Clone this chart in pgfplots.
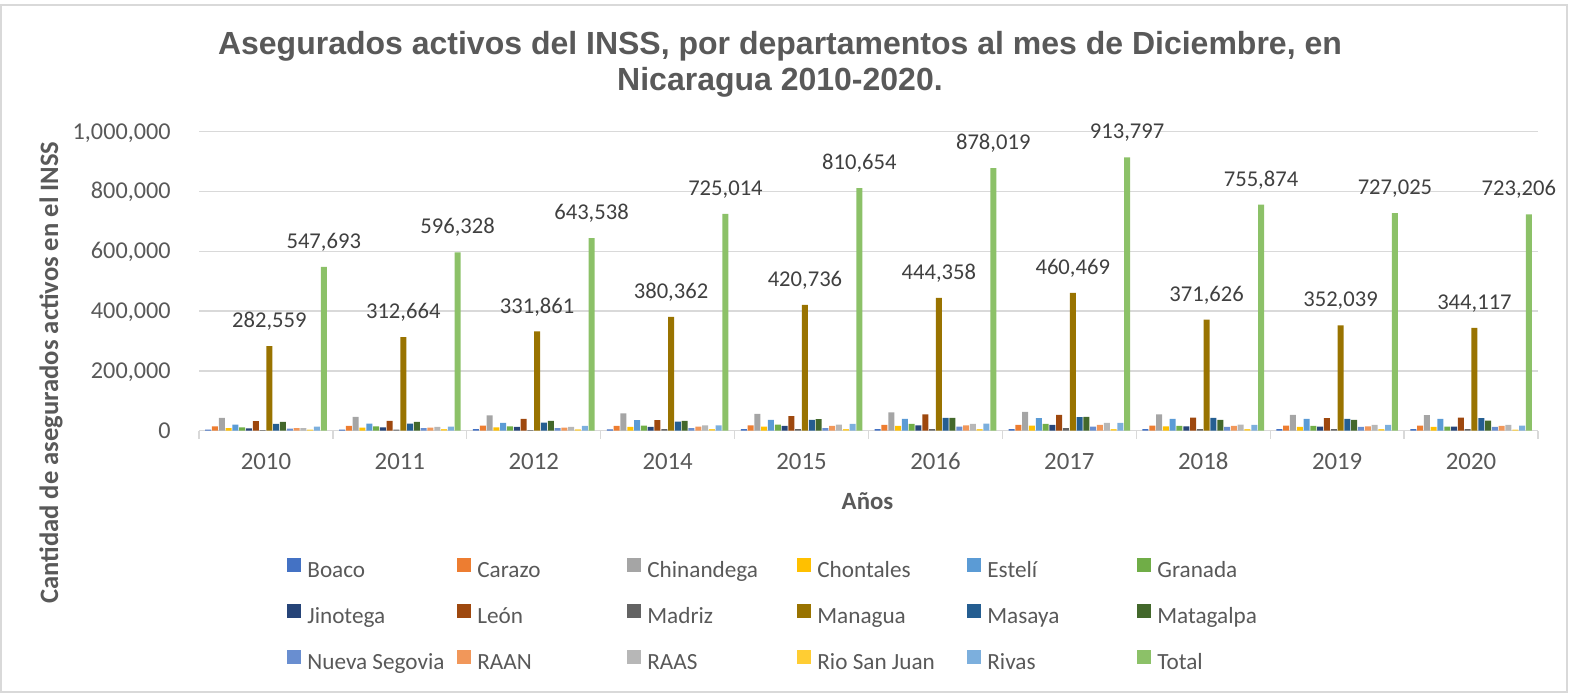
\documentclass[border=0pt]{standalone}
\usepackage{fontspec}
\setmainfont{Carlito}
\newfontfamily\titlefont{Liberation Sans}
\usepackage{pgfplots}
\pgfplotsset{compat=1.18}

\definecolor{tickgray}{HTML}{595959}
\definecolor{labgray}{HTML}{404040}
\definecolor{gridgray}{HTML}{D9D9D9}
\definecolor{cBoaco}{HTML}{4472C4}
\definecolor{cCarazo}{HTML}{ED7D31}
\definecolor{cChinandega}{HTML}{A5A5A5}
\definecolor{cChontales}{HTML}{FFC000}
\definecolor{cEsteli}{HTML}{5B9BD5}
\definecolor{cGranada}{HTML}{70AD47}
\definecolor{cJinotega}{HTML}{264478}
\definecolor{cLeon}{HTML}{9E480E}
\definecolor{cMadriz}{HTML}{636363}
\definecolor{cManagua}{HTML}{997300}
\definecolor{cMasaya}{HTML}{255E91}
\definecolor{cMatagalpa}{HTML}{43682B}
\definecolor{cNSegovia}{HTML}{698ED0}
\definecolor{cRAAN}{HTML}{F1975A}
\definecolor{cRAAS}{HTML}{B7B7B7}
\definecolor{cRSJ}{HTML}{FFCD33}
\definecolor{cRivas}{HTML}{7CAFDD}
\definecolor{cTotal}{HTML}{8CC168}

% fixed-width legend cells, like Excel's evenly spaced legend columns
\newcommand{\legent}[1]{\addlegendentry{\makebox[75pt][l]{#1}}}

\begin{document}
\begin{tikzpicture}
% 1 px of the reference = 0.5pt
\useasboundingbox (0,0) rectangle (790pt,346.5pt);
\draw[gridgray, line width=0.75pt] (0.5pt,0.4pt) rectangle (783.5pt,344pt);

\node[anchor=base, text=tickgray, font=\titlefont\bfseries\fontsize{16}{18}\selectfont]
  at (390pt,319.3pt) {Asegurados activos del INSS, por departamentos al mes de Diciembre, en};
\node[anchor=base, text=tickgray, font=\titlefont\bfseries\fontsize{16}{18}\selectfont]
  at (390pt,301.5pt) {Nicaragua 2010-2020.};
\node[rotate=90, text=tickgray, font=\bfseries\fontsize{13.3}{15}\selectfont]
  at (25.5pt,160.2pt) {Cantidad de asegurados activos en el INSS};
\node[anchor=base, text=tickgray, font=\bfseries\fontsize{12.4}{14}\selectfont]
  at (433.75pt,91.8pt) {Años};

\begin{axis}[
  at={(99.5pt,131.15pt)}, anchor=south west,
  scale only axis, width=669.5pt, height=149.6pt,
  ybar=0.4pt, bar width=3pt,
  xmin=-0.5, xmax=9.5, ymin=0, ymax=1000000,
  xtick={0,1,2,3,4,5,6,7,8,9},
  xticklabels={2010,2011,2012,2014,2015,2016,2017,2018,2019,2020},
  ytick={0,200000,400000,600000,800000,1000000},
  scaled y ticks=false,
  /pgf/number format/assume math mode=true,
  /pgf/number format/fixed,
  /pgf/number format/precision=0,
  /pgf/number format/1000 sep={,},
  axis line style={draw=none},
  tick pos=left, major tick length=0pt,
  ymajorgrids, grid style={gridgray, line width=0.65pt},
  extra x ticks={-0.5,0.5,1.5,2.5,3.5,4.5,5.5,6.5,7.5,8.5,9.5},
  extra x tick labels={},
  extra x tick style={major tick length=4pt, tick align=outside,
    tick style={draw=gridgray, line width=0.65pt}},
  yticklabel style={text=tickgray, font=\fontsize{12.1}{14}\selectfont,
    anchor=base east, inner sep=0pt, xshift=-14pt, yshift=-3.8pt},
  xticklabel style={text=tickgray, font=\fontsize{12.4}{14}\selectfont,
    anchor=base, inner sep=0pt, yshift=-19.2pt},
  every axis plot/.append style={draw=none},
  legend columns=6,
  legend cell align=left,
  legend image code/.code={\path[#1, draw=none] (0pt,-0.5pt) rectangle (7pt,6.5pt);},
  legend style={at={(0.0657,-0.4256)}, anchor=north west, draw=none, fill=none,
    inner sep=0pt, row sep=10.75pt, text=tickgray,
    font=\fontsize{11.6}{13}\selectfont,
    nodes={inner sep=0pt, text height=9pt, text depth=2.5pt},
    /tikz/every odd column/.append style={column sep=3pt}},
  datalabel/.style={nodes near coords,
    nodes near coords style={text=labgray, font=\fontsize{11.3}{13}\selectfont,
      inner sep=0pt, text depth=0pt, anchor=south, yshift=9pt}},
]
\addplot[fill=cBoaco] coordinates {(0,3390) (1,3390) (2,5650) (3,4520) (4,5650) (5,5650) (6,5650) (7,5650) (8,5650) (9,5650)};
\legent{Boaco}
\addplot[fill=cCarazo] coordinates {(0,14690) (1,15820) (2,16950) (3,15820) (4,18080) (5,19210) (6,19210) (7,16950) (8,16950) (9,16950)};
\legent{Carazo}
\addplot[fill=cChinandega] coordinates {(0,42940) (1,46330) (2,50850) (3,57630) (4,56500) (5,61020) (6,63280) (7,54240) (8,53110) (9,51980)};
\legent{Chinandega}
\addplot[fill=cChontales] coordinates {(0,9040) (1,10170) (2,11300) (3,12430) (4,13560) (5,15820) (6,16950) (7,14690) (8,12430) (9,12430)};
\legent{Chontales}
\addplot[fill=cEsteli] coordinates {(0,20340) (1,23730) (2,25990) (3,35030) (4,36160) (5,39550) (6,41810) (7,39550) (8,39550) (9,39550)};
\legent{Estelí}
\addplot[fill=cGranada] coordinates {(0,11300) (1,14690) (2,14690) (3,16950) (4,20340) (5,22600) (6,22600) (7,15820) (8,15820) (9,13560)};
\legent{Granada}
\addplot[fill=cJinotega] coordinates {(0,7910) (1,11300) (2,12430) (3,12430) (4,15820) (5,18080) (6,19210) (7,14690) (8,13560) (9,13560)};
\legent{Jinotega}
\addplot[fill=cLeon] coordinates {(0,31640) (1,32770) (2,39550) (3,35030) (4,48590) (5,54240) (6,53110) (7,44070) (8,41810) (9,44070)};
\legent{León}
\addplot[fill=cMadriz] coordinates {(0,2260) (1,3390) (2,2260) (3,5650) (4,5650) (5,5650) (6,9040) (7,5650) (8,5650) (9,5650)};
\legent{Madriz}
\addplot[fill=cManagua, datalabel] coordinates {(0,282559) (1,312664) (2,331861) (3,380362) (4,420736) (5,444358) (6,460469) (7,371626) (8,352039) (9,344117)};
\legent{Managua}
\addplot[fill=cMasaya] coordinates {(0,22600) (1,23730) (2,27120) (3,30510) (4,36160) (5,42940) (6,45200) (7,42940) (8,39550) (9,41810)};
\legent{Masaya}
\addplot[fill=cMatagalpa] coordinates {(0,29380) (1,29380) (2,32770) (3,32770) (4,38420) (5,42940) (6,46330) (7,36160) (8,36160) (9,33900)};
\legent{Matagalpa}
\addplot[fill=cNSegovia] coordinates {(0,6780) (1,9040) (2,9040) (3,9040) (4,9040) (5,13560) (6,13560) (7,12430) (8,12430) (9,12430)};
\legent{Nueva Segovia}
\addplot[fill=cRAAN] coordinates {(0,9040) (1,10170) (2,10170) (3,13560) (4,15820) (5,18080) (6,19210) (7,15820) (8,14690) (9,15820)};
\legent{RAAN}
\addplot[fill=cRAAS] coordinates {(0,9040) (1,12430) (2,12430) (3,18080) (4,20340) (5,22600) (6,25990) (7,20340) (8,19210) (9,19210)};
\legent{RAAS}
\addplot[fill=cRSJ] coordinates {(0,3390) (1,5650) (2,4520) (3,5650) (4,5650) (5,5650) (6,5650) (7,5650) (8,5650) (9,3390)};
\legent{Rio San Juan}
\addplot[fill=cRivas] coordinates {(0,13560) (1,13560) (2,15820) (3,18080) (4,22600) (5,23730) (6,25990) (7,19210) (8,19210) (9,16950)};
\legent{Rivas}
\addplot[fill=cTotal, datalabel, nodes near coords style={xshift={\coordindex==9 ? -5 : 0}}] coordinates {(0,547693) (1,596328) (2,643538) (3,725014) (4,810654) (5,878019) (6,913797) (7,755874) (8,727025) (9,723206)};
\legent{Total}
\end{axis}
\end{tikzpicture}
\end{document}
